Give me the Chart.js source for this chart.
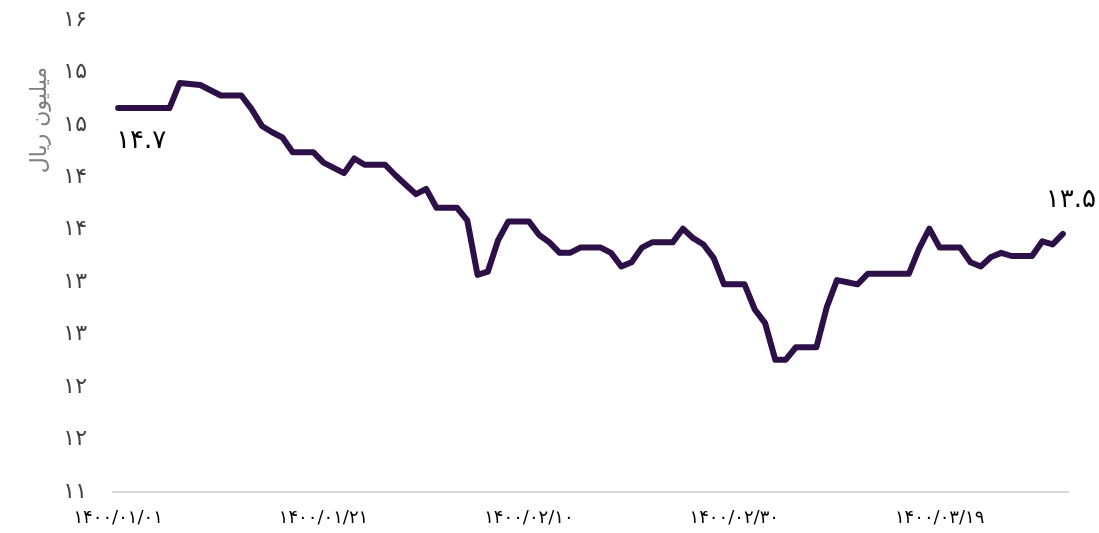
<!DOCTYPE html>
<html lang="fa">
<head>
<meta charset="utf-8">
<title>قیمت</title>
<script src="https://cdn.jsdelivr.net/npm/chart.js@4.4.1/dist/chart.umd.min.js"></script>
<style>
	html, body { margin: 0; padding: 0; background: #fff; }
	#wrap { width: 1099px; height: 533px; position: relative; }
</style>
</head>
<body>
<div id="wrap"><canvas id="grafico"></canvas></div>
<script>
const dates = [
	'1400/01/01', '1400/01/02', '1400/01/03', '1400/01/04', '1400/01/05', '1400/01/06', '1400/01/07', '1400/01/08',
	'1400/01/09', '1400/01/10', '1400/01/11', '1400/01/12', '1400/01/13', '1400/01/14', '1400/01/15', '1400/01/16',
	'1400/01/17', '1400/01/18', '1400/01/19', '1400/01/20', '1400/01/21', '1400/01/22', '1400/01/23', '1400/01/24',
	'1400/01/25', '1400/01/26', '1400/01/27', '1400/01/28', '1400/01/29', '1400/01/30', '1400/01/31',
	'1400/02/01', '1400/02/02', '1400/02/03', '1400/02/04', '1400/02/05', '1400/02/06', '1400/02/07', '1400/02/08',
	'1400/02/09', '1400/02/10', '1400/02/11', '1400/02/12', '1400/02/13', '1400/02/14', '1400/02/15', '1400/02/16',
	'1400/02/17', '1400/02/18', '1400/02/19', '1400/02/20', '1400/02/21', '1400/02/22', '1400/02/23', '1400/02/24',
	'1400/02/25', '1400/02/26', '1400/02/27', '1400/02/28', '1400/02/29', '1400/02/30', '1400/02/31',
	'1400/03/01', '1400/03/02', '1400/03/03', '1400/03/04', '1400/03/05', '1400/03/06', '1400/03/07', '1400/03/08',
	'1400/03/09', '1400/03/10', '1400/03/11', '1400/03/12', '1400/03/13', '1400/03/14', '1400/03/15', '1400/03/16',
	'1400/03/17', '1400/03/18', '1400/03/19', '1400/03/20', '1400/03/21', '1400/03/22', '1400/03/23', '1400/03/24',
	'1400/03/25', '1400/03/26', '1400/03/27', '1400/03/28', '1400/03/29', '1400/03/30', '1400/03/31'
];

// میلیون ریال
const prices = [
	14.66, 14.66, 14.66, 14.66, 14.66, 14.66, 14.90, 14.89, 14.88, 14.83,
	14.78, 14.78, 14.78, 14.65, 14.49, 14.43, 14.38, 14.24, 14.24, 14.24,
	14.14, 14.09, 14.04, 14.18, 14.12, 14.12, 14.12, 14.02, 13.93, 13.84,
	13.89, 13.71, 13.71, 13.71, 13.59, 13.07, 13.10, 13.40, 13.58, 13.58,
	13.58, 13.45, 13.38, 13.28, 13.28, 13.33, 13.33, 13.33, 13.28, 13.15,
	13.19, 13.33, 13.38, 13.38, 13.38, 13.51, 13.42, 13.36, 13.23, 12.98,
	12.98, 12.98, 12.74, 12.61, 12.26, 12.26, 12.38, 12.38, 12.38, 12.76,
	13.02, 13.00, 12.98, 13.08, 13.08, 13.08, 13.08, 13.08, 13.32, 13.51,
	13.33, 13.33, 13.33, 13.19, 13.15, 13.24, 13.28, 13.25, 13.25, 13.25,
	13.39, 13.36, 13.46
];

const yMin = 11;
const yMax = 15.5;
const yStep = 0.5;
const labelEvery = 20;
const yTitle = 'میلیون ریال';

const faDigits = '۰۱۲۳۴۵۶۷۸۹';
function toFa(s) {
	return String(s).replace(/[0-9]/g, d => faDigits[d]);
}

const fontFamily = '"DejaVu Sans", sans-serif';

// برچسب اول و آخر سری
const endLabels = {
	id: 'endLabels',
	afterDatasetsDraw(chart) {
		const meta = chart.getDatasetMeta(0);
		const vals = chart.data.datasets[0].data;
		const first = meta.data[0];
		const last = meta.data[meta.data.length - 1];
		const ctx = chart.ctx;
		ctx.save();
		ctx.fillStyle = '#000';
		ctx.font = '26px ' + fontFamily;
		ctx.textBaseline = 'middle';
		ctx.textAlign = 'left';
		ctx.fillText(toFa(vals[0].toFixed(1)), first.x - 2, first.y + 33);
		ctx.textAlign = 'center';
		ctx.fillText(toFa(vals[vals.length - 1].toFixed(1)), last.x + 8, last.y - 34);
		ctx.restore();
	}
};

const axisTitle = {
	id: 'axisTitle',
	afterDraw(chart) {
		const ctx = chart.ctx;
		const area = chart.chartArea;
		ctx.save();
		ctx.translate(area.left - 73, area.top + 100);
		ctx.rotate(-Math.PI / 2);
		ctx.fillStyle = '#7f7f7f';
		ctx.font = '22px ' + fontFamily;
		ctx.textAlign = 'center';
		ctx.textBaseline = 'middle';
		ctx.fillText(yTitle, 0, 0);
		ctx.restore();
	}
};

document.addEventListener('DOMContentLoaded', function () {
	const ctx = document.getElementById('grafico').getContext('2d');

	const data = {
		labels: dates,
		datasets: [
			{
				label: yTitle,
				data: prices,
				borderColor: '#2e1048',
				borderWidth: 6,
				borderJoinStyle: 'round',
				borderCapStyle: 'round',
				pointRadius: 0,
				tension: 0,
				fill: false,
			},
		],
	};

	const config = {
		type: 'line',
		data: data,
		plugins: [endLabels, axisTitle],
		options: {
			responsive: true,
			maintainAspectRatio: false,
			animation: false,
			layout: {
				padding: { top: 20, right: 31, left: 0, bottom: 0 },
			},
			plugins: {
				legend: { display: false },
				tooltip: { enabled: false },
			},
			scales: {
				x: {
					offset: true,
					grid: { display: false, drawTicks: false },
					border: { display: true, color: '#d9d9d9', width: 2 },
					ticks: {
						autoSkip: false,
						maxRotation: 0,
						padding: 16,
						color: '#000',
						font: { family: fontFamily, size: 18 },
						callback: function (v, i) {
							return i % labelEvery === 0 ? toFa(dates[i]) : '';
						},
					},
					afterFit: function (scale) {
						scale.height = 41;
					},
				},
				y: {
					min: yMin,
					max: yMax,
					// tickLength فقط برای فاصله برچسب‌ها از محور
					grid: { display: false, drawTicks: true, tickLength: 24, tickColor: 'rgba(0,0,0,0)' },
					border: { display: false },
					ticks: {
						stepSize: yStep,
						padding: 2,
						color: '#404040',
						font: { family: fontFamily, size: 22 },
						callback: function (v) {
							return toFa(Math.round(v));
						},
					},
					afterFit: function (scale) {
						scale.width = 113;
					},
				},
			},
		},
	};

	new Chart(ctx, config);
});
</script>
</body>
</html>
